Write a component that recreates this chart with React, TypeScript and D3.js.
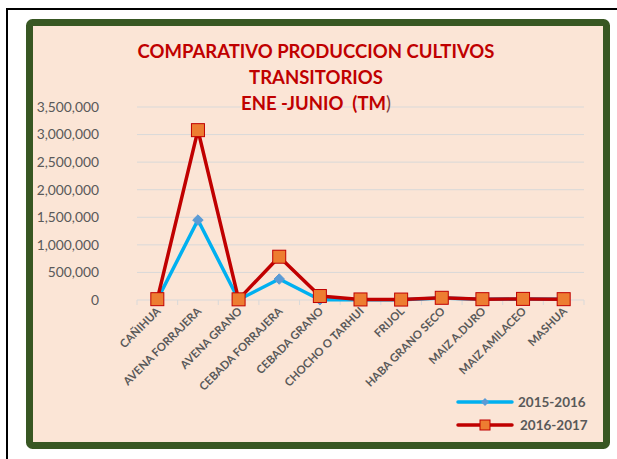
import React, { useEffect, useRef } from 'react';
import * as d3 from 'd3';

const categories = [
  'CAÑIHUA', 'AVENA FORRAJERA', 'AVENA GRANO', 'CEBADA FORRAJERA', 'CEBADA GRANO',
  'CHOCHO O TARHUI', 'FRIJOL', 'HABA GRANO SECO', 'MAIZ A.DURO', 'MAIZ AMILACEO', 'MASHUA',
];
const values2015 = [5000, 1450000, 5000, 380000, 5000, 5000, 5000, 35000, 12000, 18000, 12000];
const values2016 = [15000, 3080000, 12000, 785000, 72000, 10000, 8000, 40000, 15000, 20000, 15000];
const yTicks = [0, 500000, 1000000, 1500000, 2000000, 2500000, 3000000, 3500000];
const titleLines = ['COMPARATIVO PRODUCCION CULTIVOS', 'TRANSITORIOS', 'ENE -JUNIO  (TM'];

const series = [
  { name: '2015-2016', values: values2015, color: '#00B0F0', marker: 'diamond' },
  { name: '2016-2017', values: values2016, color: '#C00000', marker: 'square' },
];

const W = 617;
const H = 459;
const FONT = 'Lato, "Open Sans", sans-serif';

export default function App() {
  const svgRef = useRef<SVGSVGElement>(null);

  useEffect(() => {
    if (!svgRef.current) return;
    const svg = d3.select(svgRef.current);
    svg.selectAll('*').remove();

    // page frame
    svg.append('rect').attr('width', W).attr('height', H).attr('fill', '#fff');
    svg.append('path').attr('d', `M7,${H} V9 H${W}`).attr('fill', 'none')
      .attr('stroke', '#000').attr('stroke-width', 2);

    // chart area with green border
    svg.append('rect').attr('x', 29.5).attr('y', 22.5).attr('width', 577).attr('height', 423)
      .attr('rx', 3).attr('fill', '#FBE5D6').attr('stroke', '#385723').attr('stroke-width', 7);

    const x = d3.scaleBand<string>().domain(categories).range([137, 584]);
    const y = d3.scaleLinear().domain([0, 3500000]).range([300, 107]);
    const cx = (c: string) => (x(c) ?? 0) + x.bandwidth() / 2;

    // gridlines
    svg.append('g').selectAll('line').data(yTicks.slice(1)).enter().append('line')
      .attr('x1', 137).attr('x2', 584)
      .attr('y1', d => y(d)).attr('y2', d => y(d))
      .attr('stroke', '#D9D9D9').attr('stroke-width', 1);

    // x axis line and ticks
    svg.append('line').attr('x1', 137).attr('x2', 584).attr('y1', y(0)).attr('y2', y(0))
      .attr('stroke', '#D9D9D9').attr('stroke-width', 1.2);
    const bounds = categories.map(c => x(c) ?? 0).concat([584]);
    svg.append('g').selectAll('line').data(bounds).enter().append('line')
      .attr('x1', d => d).attr('x2', d => d)
      .attr('y1', y(0)).attr('y2', y(0) + 5)
      .attr('stroke', '#D9D9D9').attr('stroke-width', 1);

    // y labels
    svg.append('g').selectAll('text').data(yTicks).enter().append('text')
      .attr('x', 99).attr('y', d => y(d)).attr('dy', '0.35em')
      .attr('text-anchor', 'end').attr('font-family', FONT).attr('font-size', 13.8)
      .attr('fill', '#595959')
      .text(d => d3.format(',')(d));

    // x labels
    svg.append('g').selectAll('text').data(categories).enter().append('text')
      .attr('transform', d => `translate(${cx(d) + 4},${y(0) + 12}) rotate(-45)`)
      .attr('text-anchor', 'end').attr('font-family', FONT).attr('font-size', 11.3)
      .attr('font-weight', 'bold').attr('fill', '#595959')
      .text(d => d);

    // title
    const tt = svg.append('g').selectAll('text').data(titleLines).enter().append('text')
      .attr('x', 316).attr('y', (d, i) => 58 + i * 26)
      .attr('text-anchor', 'middle').attr('font-family', FONT).attr('font-size', 18.5)
      .attr('font-weight', 'bold').attr('fill', '#C00000')
      .attr('xml:space', 'preserve')
      .text(d => d);
    tt.filter((d, i) => i === 2).append('tspan')
      .attr('fill', '#7F4040').attr('font-weight', 'normal').text(')');

    const line = d3.line<number>()
      .x((d, i) => cx(categories[i]))
      .y(d => y(d));

    series.forEach(s => {
      svg.append('path').datum(s.values).attr('d', line)
        .attr('fill', 'none').attr('stroke', s.color).attr('stroke-width', 3.5)
        .attr('stroke-linejoin', 'round');
      const g = svg.append('g');
      if (s.marker === 'diamond') {
        g.selectAll('path').data(s.values).enter().append('path')
          .attr('d', d3.symbol().type(d3.symbolDiamond2).size(70)())
          .attr('transform', (d, i) => `translate(${cx(categories[i])},${y(d)})`)
          .attr('fill', '#5B9BD5').attr('stroke', '#5B9BD5');
      } else {
        g.selectAll('rect').data(s.values).enter().append('rect')
          .attr('x', (d, i) => cx(categories[i]) - 6.5).attr('y', d => y(d) - 6.5)
          .attr('width', 13).attr('height', 13)
          .attr('fill', '#ED7D31').attr('stroke', '#C00000').attr('stroke-width', 1);
      }
    });

    // legend
    const lg = svg.append('g');
    series.forEach((s, i) => {
      const ly = 402 + i * 23;
      lg.append('line').attr('x1', 458).attr('x2', 512).attr('y1', ly).attr('y2', ly)
        .attr('stroke', s.color).attr('stroke-width', 3.5).attr('stroke-linecap', 'round');
      if (s.marker === 'diamond') {
        lg.append('path').attr('d', d3.symbol().type(d3.symbolDiamond2).size(40)())
          .attr('transform', `translate(485,${ly})`).attr('fill', '#5B9BD5');
      } else {
        lg.append('rect').attr('x', 480).attr('y', ly - 5).attr('width', 10).attr('height', 10)
          .attr('fill', '#ED7D31').attr('stroke', '#C00000');
      }
      lg.append('text').attr('x', 518 + i * 2).attr('y', ly).attr('dy', '0.35em')
        .attr('font-family', FONT).attr('font-size', 13.5).attr('font-weight', 'bold')
        .attr('fill', '#595959').text(s.name);
    });
  }, []);

  return (
    <svg ref={svgRef} width={W} height={H}
      style={{ position: 'absolute', left: 0, top: 0, display: 'block' }} />
  );
}
